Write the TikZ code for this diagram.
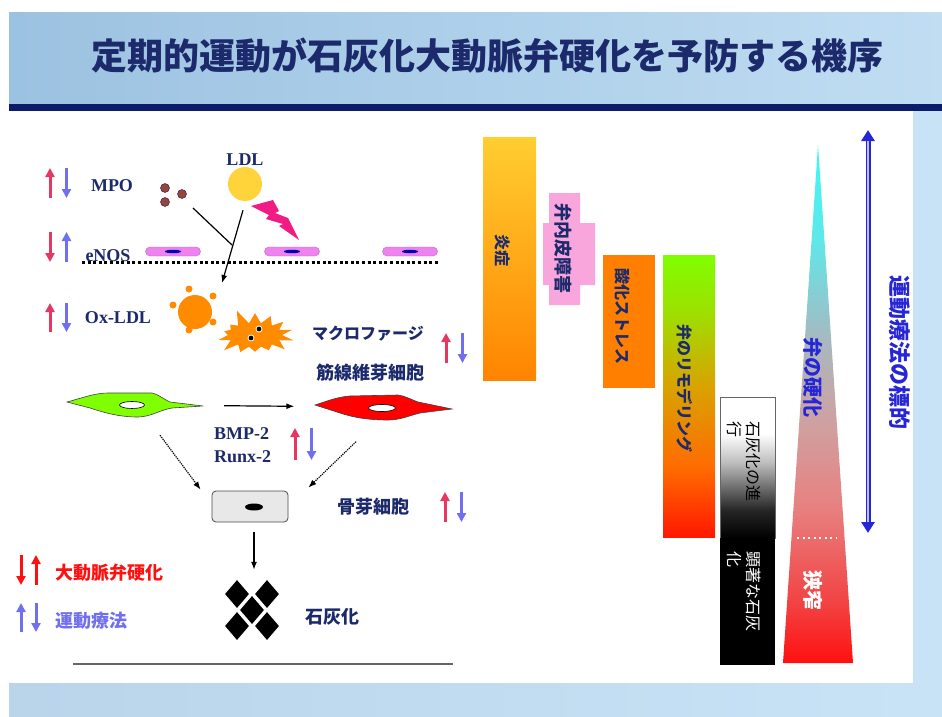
\documentclass[tikz,border=0pt]{standalone}
\usepackage{fontspec}
\setmainfont{Liberation Serif}
\newfontfamily\jpfont{Noto Sans CJK JP}
\usetikzlibrary{arrows.meta,positioning,calc,shapes.geometric,shapes.symbols}
\definecolor{ink}{HTML}{1C2A6C}
\definecolor{navybar}{HTML}{0B1C6B}
\definecolor{bandL}{HTML}{9CC2E1}
\definecolor{bandR}{HTML}{C0DDF2}
\definecolor{sky}{HTML}{C8E2F6}
\definecolor{crim}{HTML}{E5375F}
\definecolor{peri}{HTML}{6F6FEF}
\definecolor{hot}{HTML}{FF1010}
\definecolor{goal}{HTML}{2626D6}
\definecolor{ldlyel}{HTML}{FFD43A}
\definecolor{oxor}{HTML}{FF8C00}
\definecolor{bolt}{HTML}{F01C84}
\definecolor{endopink}{HTML}{EE82EE}
\definecolor{dotbrown}{HTML}{8B4A3C}
\definecolor{infTop}{HTML}{FFCE30}
\definecolor{infBot}{HTML}{FF8400}
\definecolor{pinkbox}{HTML}{F9A6DC}
\definecolor{oxbar}{HTML}{FF8000}
\definecolor{rA}{HTML}{FF1800}
\definecolor{rB}{HTML}{FF6A00}
\definecolor{rC}{HTML}{D8A400}
\definecolor{rD}{HTML}{9CE000}
\definecolor{rE}{HTML}{80FF00}
% vertical gradients, bottom colour first; the path is fitted to 25bp..75bp
\pgfdeclareverticalshading{remodel}{100bp}{color(0bp)=(rA); color(25bp)=(rA); color(37bp)=(rB); color(52bp)=(rC); color(65bp)=(rD); color(75bp)=(rE); color(100bp)=(rE)}
\pgfdeclareverticalshading{calcprog}{100bp}{color(0bp)=(black); color(25bp)=(black); color(35bp)=(black!85); color(52bp)=(black!25); color(62bp)=(white); color(100bp)=(white)}
\definecolor{vA}{HTML}{FF1010}
\definecolor{vB}{HTML}{F24444}
\definecolor{vC}{HTML}{E88080}
\definecolor{vD}{HTML}{D0A0A0}
\definecolor{vE}{HTML}{A8B8C0}
\definecolor{vF}{HTML}{5EE8EA}
\definecolor{vG}{HTML}{40F6F6}
\pgfdeclareverticalshading{valve}{100bp}{color(0bp)=(vA); color(25bp)=(vA); color(31bp)=(vB); color(40bp)=(vC); color(48bp)=(vD); color(56bp)=(vE); color(66bp)=(vF); color(75bp)=(vG); color(100bp)=(vG)}
\tikzset{lbl/.style={text=ink,font=\bfseries\fontsize{18}{23}\selectfont,inner sep=0pt},
  jlbl/.style={text=ink,font=\jpfont\bfseries\fontsize{18}{20}\selectfont,inner sep=0pt},
  vlbl/.style={jlbl,rotate=-90},
  flow/.style={line width=1.2pt,-{Latex[length=8pt,width=6pt]}},
  hint/.style={flow,densely dotted},
  uparr/.style={line width=3pt,-{Triangle[length=9pt,width=9pt]}},
  endo/.style={rectangle,rounded corners=4.5pt,fill=endopink,draw=endopink!80!black,line width=.4pt,minimum width=55pt,minimum height=9pt,inner sep=0pt},
  nucl/.style={ellipse,fill=blue!70!black,minimum width=16pt,minimum height=3.5pt,inner sep=0pt},
  body/.style={inner sep=0pt},
  cell/.style={draw=black!75,line width=.6pt},
  gem/.style={diamond,fill=black,minimum width=24pt,minimum height=28pt,inner sep=0pt},
  barbox/.style={rectangle,inner sep=0pt}}
\begin{document}
\begin{tikzpicture}[x=1pt,y=-1pt]
\useasboundingbox (0,0) rectangle (942,717);
\fill[white] (0,0) rectangle (942,717);
% slide frame
\shade[left color=bandL,right color=bandR] (9,13) rectangle (942,104);
\fill[navybar] (9,104) rectangle (942,111);
\fill[sky] (913,111) rectangle (942,717);
\shade[left color=bandL!70!white,right color=sky] (9,683) rectangle (913,717);
\node[text=ink,font=\jpfont\bfseries\fontsize{36}{40}\selectfont] (title) at (487,56) {定期的運動が石灰化大動脈弁硬化を予防する機序};

% up/down marks beside the markers
\foreach \x/\yt/\yb in {50/168/198,50/303/332,446/333/363,295/428/460,445/492/522}{
  \draw[uparr,crim] (\x,\yb) -- (\x,\yt);
  \draw[uparr,peri] (\x+16.5,\yt) -- (\x+16.5,\yb);}
\draw[uparr,crim] (50,232) -- (50,262);
\draw[uparr,peri] (66.5,262) -- (66.5,232);

% vessel wall
\draw[line width=3pt,dash pattern=on 3pt off 2.6pt] (82,262) -- (440,262);
\foreach \x [count=\i] in {173,292,410}{
  \node[endo] (endo\i) at (\x,251.5) {};
  \node[nucl] at (endo\i) {};}
\node[lbl] (enos) at (108,256) {eNOS};
\node[lbl] (mpo) at (112,186) {MPO};
\node[lbl] (oxlbl) at (118,318) {Ox-LDL};
\foreach \p [count=\i] in {(165,188),(182,194),(165,202)}
  \node[circle,fill=dotbrown,draw=violet!60!black,line width=.4pt,minimum size=9pt,inner sep=0pt] (dot\i) at \p {};
\node[circle,fill=ldlyel,minimum size=34pt,inner sep=0pt] (ldl) at (245,184) {};
\node[lbl] at (245,160) {LDL};
\fill[bolt] (251,206) -- (273,200) -- (279,211) -- (275,213) -- (288,218) -- (299,240) -- (279,226) -- (283,224) -- (266,219) -- (269,215) -- cycle;
\coordinate (merge) at (232,245);
\draw[line width=1.2pt] ($(dot2)+(11,14)$) -- (merge);
\node[circle,fill=oxor,minimum size=34pt,inner sep=0pt] (oxldl) at (195,312) {};
\foreach \p in {(173,305),(189,289),(213,296),(213,322),(189,330)}
  \fill[oxor] \p circle (3.5);
\draw[flow] ($(ldl.south)+(-2,9)$) -- ($(oxldl)+(27,-29)$);
\node[starburst,starburst points=14,starburst point height=16pt,random starburst=5,fill=oxor,minimum width=86pt,minimum height=56pt,inner sep=0pt] (macro) at (255,335) {};
\foreach \p in {(251,338),(259,329)}
  \fill[black,draw=white,line width=.8pt] \p circle (3);
\node[jlbl,font=\jpfont\bfseries\fontsize{16}{18}\selectfont] at (368,334) {マクロファージ};
\node[jlbl] at (370,373) {筋線維芽細胞};

% fibroblast -> myofibroblast
\fill[green!50!yellow,cell] (67,402) .. controls (82,398) and (95,393) .. (108,393) -- (152,393) .. controls (158,394) and (163,399) .. (170,402) -- (203,406) -- (172,408) .. controls (160,410) and (150,417) .. (138,417) .. controls (120,417) and (105,413) .. (90,408) -- cycle;
\node[ellipse,fill=white,draw=black,line width=.6pt,minimum width=25pt,minimum height=7pt,inner sep=0pt] at (132,405) {};
\fill[red,cell] (315,405) .. controls (330,400) and (338,397) .. (350,396) -- (398,395) .. controls (405,396) and (410,399) .. (418,402) -- (452,409) -- (420,413) .. controls (408,416) and (400,420) .. (388,420) .. controls (370,420) and (355,418) .. (340,413) -- cycle;
\node[ellipse,fill=white,draw=black,line width=.6pt,minimum width=27pt,minimum height=7pt,inner sep=0pt] at (382,408) {};
\node[body,minimum width=136pt,minimum height=24pt] (fib) at (135,405) {};
\node[body,minimum width=137pt,minimum height=25pt] (myo) at (383,407) {};
\draw[flow,shorten <=21pt,shorten >=20pt] (fib) -- (myo);
\node[lbl,align=left,anchor=west] at (214,445) {BMP-2\\Runx-2};

% osteoblast and calcium
\node[rectangle,rounded corners=4pt,fill=black!9,draw=black!70,line width=.8pt,minimum width=76pt,minimum height=31pt,inner sep=0pt] (ost) at (250,506.5) {};
\node[ellipse,fill=black,minimum width=18pt,minimum height=7pt,inner sep=0pt] at (254,507) {};
\draw[hint] ($(fib.south)+(25,18)$) -- ($(ost.north west)+(-11,-1)$);
\draw[hint] ($(myo.south)+(-27,22)$) -- ($(ost.north east)+(20,-3)$);
\node[jlbl] at (373,507) {骨芽細胞};
\foreach \p in {(237,594),(267,594),(252,610),(237,626),(267,626)}
  \node[gem] at \p {};
\node[body,minimum width=54pt,minimum height=62pt] (gems) at (252,610) {};
\draw[flow] ($(ost.south)+(4,10)$) -- ($(gems.north)+(2,-9)$);
\node[jlbl] at (332,617) {石灰化};

% legend
\draw[uparr,hot] (21,555) -- (21,585);
\draw[uparr,hot] (36,585) -- (36,555);
\draw[uparr,peri] (21,632) -- (21,603);
\draw[uparr,peri] (36,603) -- (36,632);
\node[jlbl,text=hot,anchor=west] at (55,573) {大動脈弁硬化};
\node[jlbl,text=peri,anchor=west] at (55,621) {運動療法};
\draw[black!60,line width=1.2pt] (73,664) -- (453,664);

% disease course bars
\node[barbox,top color=infTop,bottom color=infBot,minimum width=53pt,minimum height=243pt] (inflam) at (509.5,258.5) {};
\fill[pinkbox] (549,193) -- (580,193) -- (580,223) -- (595,223) -- (595,285) -- (580,285) -- (580,305) -- (549,305) -- (549,285) -- (543,285) -- (543,223) -- (549,223) -- cycle;
\node[barbox,fill=oxbar,minimum width=52pt,minimum height=133pt] (oxst) at (629,321.5) {};
\node[barbox,shade,shading=remodel,minimum width=52pt,minimum height=282pt] (remod) at (689,396) {};
\node[barbox,shade,shading=calcprog,draw=black!60,minimum width=55pt,minimum height=141pt] (calc) at (747.5,467.5) {};
\node[barbox,fill=black,minimum width=55pt,minimum height=127pt] (heavy) at (747.5,601.5) {};
\node[vlbl,font=\jpfont\bfseries\fontsize{16}{18}\selectfont] at (503,250) {炎症};
\node[vlbl] at (563,248) {弁内皮障害};
\node[vlbl,font=\jpfont\bfseries\fontsize{16}{18}\selectfont] at (623,316) {酸化ストレス};
\node[vlbl,font=\jpfont\bfseries\fontsize{16}{18}\selectfont] at (685,388) {弁のリモデリング};
\node[vlbl,text=black,font=\jpfont\fontsize{16}{19}\selectfont,align=left,anchor=north west] at (761,421) {石灰化の進\\行};
\node[vlbl,text=white,font=\jpfont\fontsize{16}{19}\selectfont,align=left,anchor=north west] at (761,551) {顕著な石灰\\化};

% valve stiffening wedge
\shade[shading=valve] (818,145) -- (853,663) -- (783,663) -- cycle;
\draw[white,line width=2pt,dash pattern=on 2pt off 3.5pt] (797,538) -- (836,538);
\node[vlbl,text=goal,font=\jpfont\bfseries\fontsize{20}{22}\selectfont] at (813,377) {弁の硬化};
\node[vlbl,text=white,font=\jpfont\bfseries\fontsize{20}{22}\selectfont] at (813,590) {狭窄};
\coordinate (goaltop) at (868,130);
\coordinate (goalbot) at (868,533);
\draw[goal,line width=5pt,{Triangle[length=11pt,width=13pt]}-{Triangle[length=11pt,width=13pt]}] (goaltop) -- (goalbot);
\draw[goal!30,line width=1.8pt,shorten <=11pt,shorten >=11pt] (goaltop) -- (goalbot);
\node[vlbl,text=goal,font=\jpfont\bfseries\fontsize{22}{24}\selectfont] at (900,352) {運動療法の標的};
\end{tikzpicture}
\end{document}
